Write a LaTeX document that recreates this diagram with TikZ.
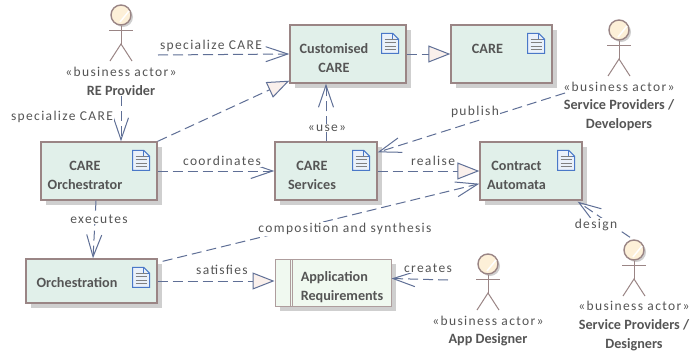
\documentclass[tikz,border=0pt]{standalone}
\usepackage{fontspec}
\setmainfont{Carlito}
\newfontfamily\spacedfont[LetterSpace=10]{Carlito}
\usetikzlibrary{arrows.meta}
\usetikzlibrary{shadows}
\definecolor{boxfill}{HTML}{E1F0EA}
\definecolor{reqfill}{HTML}{F0F9F0}
\definecolor{boxline}{HTML}{9A8585}
\definecolor{linkblue}{HTML}{5F6F96}
\definecolor{tipfill}{HTML}{FAF0EC}
\definecolor{headfill}{HTML}{FDF0D8}
\definecolor{softgray}{HTML}{CFCFCF}
\definecolor{textgray}{HTML}{555555}
\definecolor{iconblue}{HTML}{4A78C8}
\definecolor{iconfill}{HTML}{EAF1FA}
\tikzset{
  box/.style={draw=boxline,line width=1.4pt,fill=boxfill,inner sep=0pt,
    drop shadow={shadow xshift=5pt,shadow yshift=-5pt,fill=softgray,opacity=1}},
  boxtext/.style={text=textgray,font=\fontsize{14.2}{19}\selectfont\bfseries,align=center,inner sep=0pt},
  stereo/.style={text=textgray,font=\fontsize{13.5}{16}\selectfont\spacedfont,inner sep=0pt},
  actorname/.style={text=textgray,font=\fontsize{14.2}{19}\selectfont\bfseries,align=center,inner sep=0pt},
  linktext/.style={text=textgray,font=\fontsize{13.5}{16}\selectfont\spacedfont,fill=white,inner sep=1pt},
  dep/.style={draw=linkblue,line width=1pt,dash pattern=on 10pt off 5pt,-{Straight Barb[length=22pt,width=15pt]}},
  real/.style={draw=linkblue,line width=1pt,dash pattern=on 10pt off 5pt,-{Triangle[open,length=22pt,width=17pt,fill=tipfill]}},
}
% x y of the head centre
\newcommand{\actor}[3]{
  \fill [softgray] (#2+2,#3+2) circle (10);
  \node [circle,draw=boxline,line width=1.4pt,fill=headfill,minimum size=20pt,inner sep=0pt] (#1) at (#2,#3) {};
  \draw [white,line width=1.5pt] (#2+8,#3-4) -- (#2-1,#3+7);
  \draw [boxline,line width=1pt] (#1.south) -- (#2,#3+29);
  \draw [boxline,line width=1pt] (#2-12,#3+15) -- (#2+12,#3+15);
  \draw [boxline,line width=1pt] (#2-11,#3+46) -- (#2,#3+29) -- (#2+11,#3+46);
}
\newcommand{\docicon}[1]{
  \begin{scope}[shift={(#1.north east)},xshift=-25pt,yshift=-9pt]
  \draw [iconblue,line width=1pt,fill=iconfill] (0,0) -- (11,0) -- (17,6) -- (17,20) -- (0,20) -- cycle;
  \draw [iconblue,line width=.8pt] (11,0) -- (11,6) -- (17,6);
  \foreach \y in {6,9.5,13,16.5} \draw [gray,line width=.9pt] (3,\y) -- (14,\y);
  \end{scope}
}

\begin{document}
\begin{tikzpicture}[x=1pt,y=-1pt]
\useasboundingbox [fill=white] (0,0) rectangle (691,354);

\node [box,minimum width=116pt,minimum height=58pt] (customised) at (348,54) {};
\node [box,minimum width=101pt,minimum height=58pt] (care) at (501.5,54) {};
\node [box,minimum width=116pt,minimum height=58pt] (orchestrator) at (99,171) {};
\node [box,minimum width=102pt,minimum height=58pt] (services) at (326,171) {};
\node [box,minimum width=102pt,minimum height=58pt] (contract) at (531,171) {};
\node [box,minimum width=131pt,minimum height=44pt] (orchestration) at (91.5,281) {};
\node [box,draw=boxline!80,line width=1pt,fill=reqfill,minimum width=116pt,minimum height=47pt] (requirements) at (333,282.5) {};
\draw [boxline!80,line width=1pt] (290,259) -- (290,306);
\draw [boxline!80,line width=1pt] (292.5,259) -- (292.5,306);

\docicon{customised}
\docicon{care}
\docicon{orchestrator}
\docicon{services}
\docicon{contract}
\docicon{orchestration}

\node [boxtext] (customisedtext) at (334,58) {Customised\\CARE};
\node [boxtext] (caretext) at (487.5,49) {CARE};
\node [boxtext] (orchestratortext) at (85,175) {CARE\\Orchestrator};
\node [boxtext] (servicestext) at (312,175) {CARE\\Services};
\node [boxtext] (contracttext) at (516.5,175) {Contract\\Automata};
\node [boxtext] (orchestrationtext) at (77,283) {Orchestration};
\node [boxtext,align=left] (requirementstext) at (342,287) {Application\\Requirements};

\actor{reprovider}{121}{15}
\actor{developers}{619}{30}
\actor{appdesigner}{488}{264}
\actor{designers}{634}{250}

\node [stereo] (restereo) at (121,72) {«business actor»};
\node [actorname] (relabel) at (121,91) {RE Provider};
\node [stereo] (devstereo) at (619,87) {«business actor»};
\node [actorname] (devlabel) at (619,115) {Service Providers /\\Developers};
\node [stereo] (appstereo) at (488,321) {«business actor»};
\node [actorname] (applabel) at (488,340) {App Designer};
\node [stereo] (desstereo) at (634,306) {«business actor»};
\node [actorname] (deslabel) at (634,335) {Service Providers /\\Designers};

\coordinate (reright) at (158,55);
\coordinate (devleft) at (565,93);
\coordinate (appleft) at (448,280);

\draw [dep] (relabel.south) -- (relabel.south |- orchestrator.north);
\draw [dep] (reright) -- (customised.west);
\draw [real] (orchestrator.north east) -- ([yshift=3pt]customised.south west);
\draw [real] (customised.east) -- (care.west);
\draw [dep] (services.north) -- (services.north |- customised.south);
\draw [dep] (orchestrator.east) -- (services.west);
\draw [dep] (devleft) -- ([yshift=-11pt]services.north east);
\draw [real] (services.east) -- (contract.west);
\draw [dep] (orchestrator.south) ++(-3,0) -- ([xshift=1.5pt]orchestration.north);
\draw [dep] ([xshift=5pt,yshift=-3pt]orchestration.north east) -- ([yshift=17pt]contract.south west);
\draw [real] (orchestration.east) -- (requirements.west |- orchestration.east);
\draw [dep] (appleft) -- ([yshift=4pt]requirements.east);
\draw [dep] (designers.north) ++(-4,-2) -- ([xshift=-5pt,yshift=-1pt]contract.south east);

\node [linktext] (speccare) at (211,46) {specialize CARE};
\node [linktext] (specorch) at (62,117) {specialize CARE};
\node [linktext] (usetext) at (327,128) {«use»};
\node [linktext] (coordtext) at (222,161) {coordinates};
\node [linktext] (publishtext) at (475,112) {publish};
\node [linktext] (realisetext) at (433,161) {realise};
\node [linktext] (executestext) at (99,219) {executes};
\node [linktext] (synthtext) at (345,229) {composition and synthesis};
\node [linktext] (satisfiestext) at (222,270) {satisfies};
\node [linktext] (createstext) at (428,268) {creates};
\node [linktext] (designtext) at (596,225) {design};

\end{tikzpicture}
\end{document}
